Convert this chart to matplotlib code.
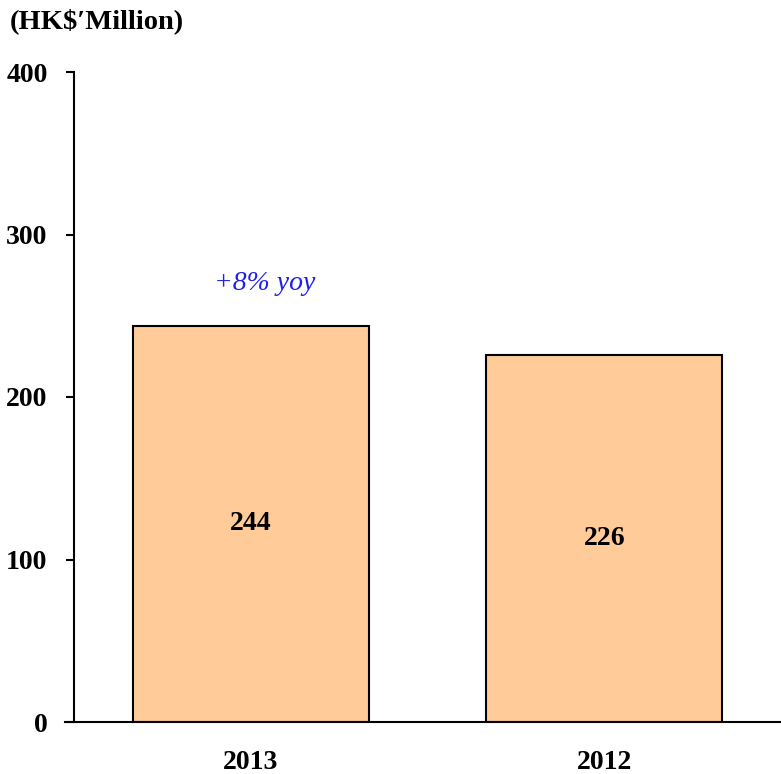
import matplotlib.pyplot as plt

years = ['2013', '2012']
values = [244, 226]
yticks = [0, 100, 200, 300, 400]
growth_label = '+8% yoy'

plt.rcParams['font.family'] = ['Liberation Serif', 'DejaVu Serif']

fig = plt.figure(figsize=(7.81, 7.74), dpi=100)
ax = fig.add_axes([74 / 781, 52 / 774, 707 / 781, 650 / 774])

positions = range(len(years))
ax.bar(positions, values, width=0.667, color='#FFCC99', edgecolor='black', linewidth=1.5)

# value labels in the middle of each bar
for x, v in zip(positions, values):
    ax.text(x, v / 2, str(v), ha='center', va='center', fontsize=20, fontweight='bold')

ax.text(0.04, 270, growth_label, ha='center', va='center', fontsize=20,
        style='italic', color='#2020EE')

ax.set_xlim(-0.5, 1.5)
ax.set_ylim(0, 400)
ax.set_yticks(yticks)
ax.set_xticks(list(positions))
ax.set_xticklabels(years)

for lab in ax.get_xticklabels() + ax.get_yticklabels():
    lab.set_fontsize(20)
    lab.set_fontweight('bold')

ax.tick_params(axis='y', length=6, width=1.5, pad=13)
ax.tick_params(axis='x', length=0, pad=20)

ax.spines['top'].set_visible(False)
ax.spines['right'].set_visible(False)
ax.spines['left'].set_linewidth(1.5)
ax.spines['bottom'].set_linewidth(1.5)
ax.spines['bottom'].set_bounds(-0.525, 1.5)

fig.text(10 / 781, 1 - 21 / 774, "(HK$\u2032Million)", ha='left', va='center',
         fontsize=20.5, fontweight='bold')

plt.savefig('out.png', format='png')
